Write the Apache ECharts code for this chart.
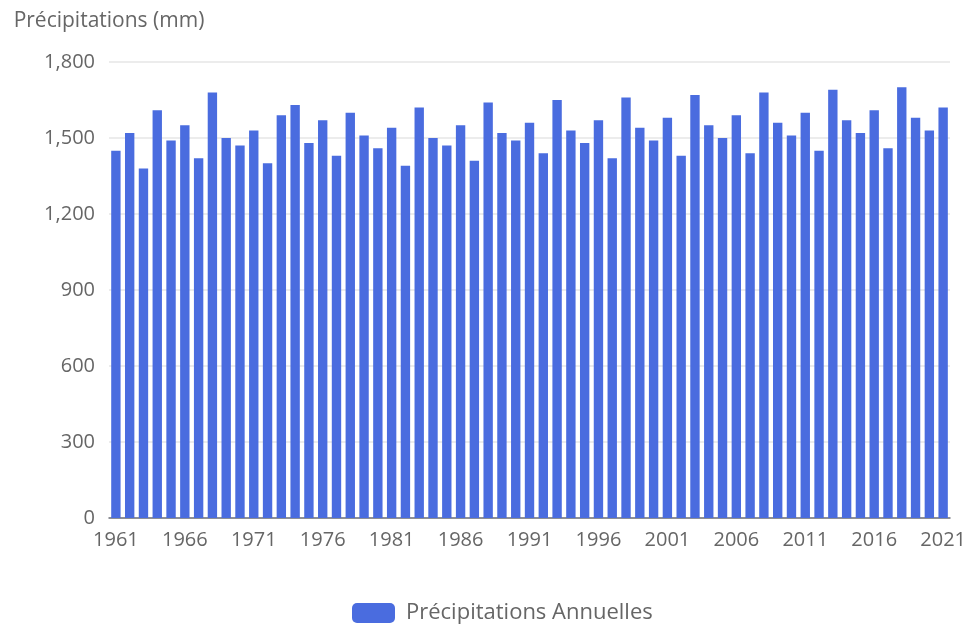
<!DOCTYPE html>
<html>
<head>
<meta charset="utf-8">
<script src="https://cdn.jsdelivr.net/npm/echarts@6/dist/echarts.min.js"></script>
<style>
html,body{margin:0;padding:0;background:#fff;}
#chart{width:969px;height:624px;}
</style>
</head>
<body>
<div id="chart"></div>
<script>
const years = [];
for (let y = 1961; y <= 2021; y++) years.push(String(y));

const precipitation = [
  1450, 1520, 1380, 1610, 1490, 1550, 1420, 1680, 1500, 1470,
  1530, 1400, 1590, 1630, 1480, 1570, 1430, 1600, 1510, 1460,
  1540, 1390, 1620, 1500, 1470, 1550, 1410, 1640, 1520, 1490,
  1560, 1440, 1650, 1530, 1480, 1570, 1420, 1660, 1540, 1490,
  1580, 1430, 1670, 1550, 1500, 1590, 1440, 1680, 1560, 1510,
  1600, 1450, 1690, 1570, 1520, 1610, 1460, 1700, 1580, 1530,
  1620
];

const seriesName = 'Précipitations Annuelles';
const yAxisName = 'Précipitations (mm)';

const FONT = '"Open Sans", "Noto Sans", sans-serif';
const chart = echarts.init(document.getElementById('chart'));
chart.setOption({
  animation: false,
  textStyle: { fontFamily: FONT },
  grid: { left: 109, right: 18, top: 62, bottom: 106, containLabel: false },
  legend: {
    top: 597,
    left: 347,
    itemWidth: 43,
    itemHeight: 20,
    itemGap: 10,
    textStyle: { fontSize: 22, color: '#666', fontFamily: FONT, padding: [0, 0, 0, 6] },
    data: [seriesName]
  },
  xAxis: {
    type: 'category',
    data: years,
    axisTick: { show: false },
    axisLine: { lineStyle: { color: '#6e7079', width: 1.5 } },
    axisLabel: { interval: 4, fontSize: 20, color: '#666', margin: 12, fontFamily: FONT }
  },
  yAxis: {
    type: 'value',
    min: 0, max: 1800, interval: 300,
    name: yAxisName,
    nameGap: 30,
    nameTextStyle: { fontSize: 21, color: '#666', fontFamily: FONT },
    axisLabel: { fontSize: 20, color: '#666', margin: 14, fontFamily: FONT },
    splitLine: { lineStyle: { color: '#e6e6e6', width: 1.5 } }
  },
  series: [{
    name: seriesName,
    type: 'bar',
    data: precipitation,
    barCategoryGap: '32%',
    itemStyle: { color: '#4a6cdf' }
  }]
});
</script>
</body>
</html>
